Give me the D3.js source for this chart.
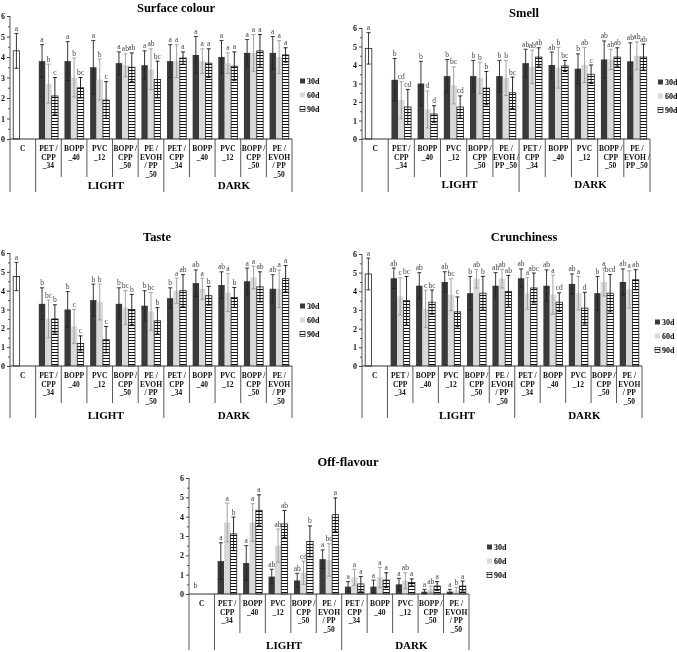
<!DOCTYPE html>
<html>
<head>
<meta charset="utf-8">
<script src="https://cdn.jsdelivr.net/npm/d3@7"></script>
<style>
  body { margin: 0; background: #fff; }
  svg { display: block; font-family: "Liberation Serif", "Times New Roman", serif; will-change: transform; }
</style>
</head>
<body>
<div id="chart"></div>
<script>
// storage times and light condition groups
var series = ['30d', '60d', '90d'];
var groups = ['LIGHT', 'DARK'];
// 11 categories: control, 5 packages under light, 5 packages in the dark
var catLabels = [['C'], ['PET /', 'CPP', '_34'], ['BOPP', '_40'], ['PVC', '_12'], ['BOPP /', 'CPP', '_50'], ['PE /', 'EVOH', '/ PP', '_50'],
                 ['PET /', 'CPP', '_34'], ['BOPP', '_40'], ['PVC', '_12'], ['BOPP /', 'CPP', '_50'], ['PE /', 'EVOH', '/ PP', '_50']];
var smellLabels = [['C'], ['PET /', 'CPP', '_34'], ['BOPP', '_40'], ['PVC', '_12'], ['BOPP /', 'CPP', '_50'], ['PE /', 'EVOH /', 'PP _50'],
                   ['PET /', 'CPP', '_34'], ['BOPP', '_40'], ['PVC', '_12'], ['BOPP /', 'CPP', '_50'], ['PE /', 'EVOH /', 'PP _50']];

// Surface colour
var surfM30 = [4.3, 3.8, 3.8, 3.5, 3.7, 3.6, 3.8, 4.1, 4.0, 4.2, 4.2];
var surfM60 = [null, 2.7, 3.0, 2.9, 3.6, 3.4, 3.8, 3.8, 3.7, 4.2, 4.0];
var surfM90 = [null, 2.1, 2.5, 1.9, 3.5, 2.9, 3.95, 3.7, 3.55, 4.3, 4.1];
var surfS30 = [0.85, 0.8, 0.95, 1.3, 0.55, 0.7, 0.8, 0.9, 0.8, 0.65, 0.8];
var surfS60 = [null, 0.95, 0.95, 1.0, 0.55, 1.0, 0.8, 0.6, 0.5, 0.9, 0.8];
var surfS90 = [null, 0.9, 0.5, 0.9, 0.7, 0.9, 0.3, 0.7, 0.7, 0.8, 0.35];
var surfL30 = ['a', 'a', 'a', 'a', 'a', 'a', 'a', 'a', 'a', 'a', 'a'];
var surfL60 = ['', 'b', 'b', 'b', 'ab', 'ab', 'a', 'a', 'a', 'a', 'a'];
var surfL90 = ['', 'c', 'bc', 'c', 'ab', 'bc', 'a', 'a', 'a', 'a', 'a'];

// Smell
var smellM30 = [4.9, 3.2, 3.0, 3.4, 3.4, 3.4, 4.1, 4.0, 3.8, 4.3, 4.2];
var smellM60 = [null, 2.1, 1.6, 2.9, 3.3, 3.3, 3.9, 3.85, 4.0, 4.3, 4.5];
var smellM90 = [null, 1.73, 1.35, 1.73, 2.75, 2.5, 4.43, 3.95, 3.5, 4.43, 4.43];
var smellS30 = [0.85, 1.15, 1.2, 0.9, 0.85, 0.85, 0.75, 0.7, 0.8, 1.0, 1.0];
var smellS60 = [null, 1.0, 1.0, 1.0, 0.85, 0.95, 0.9, 1.1, 0.95, 0.55, 0.75];
var smellS90 = [null, 0.95, 0.45, 0.6, 0.9, 0.85, 0.5, 0.3, 0.5, 0.5, 0.7];
var smellL30 = ['a', 'b', 'b', 'b', 'b', 'b', 'ab', 'ab', 'b', 'ab', 'ab'];
var smellL60 = ['', 'cd', 'd', 'bc', 'b', 'b', 'ab', 'b', 'ab', 'ab', 'ab'];
var smellL90 = ['', 'cd', 'd', 'cd', 'b', 'bc', 'ab', 'bc', 'c', 'ab', 'ab'];

// Taste
var tasteM30 = [4.75, 3.3, 3.0, 3.5, 3.3, 3.2, 3.6, 4.4, 4.3, 4.5, 4.1];
var tasteM60 = [null, 2.5, 2.1, 3.4, 3.1, 2.9, 4.0, 4.1, 3.9, 4.7, 4.1];
var tasteM90 = [null, 2.5, 1.2, 1.4, 3.0, 2.4, 4.0, 3.73, 3.64, 4.2, 4.64];
var tasteS30 = [0.75, 0.85, 0.95, 0.85, 0.85, 0.8, 0.55, 0.7, 0.7, 0.7, 0.75];
var tasteS60 = [null, 1.0, 0.9, 0.95, 0.9, 1.0, 0.67, 0.57, 1.0, 0.6, 1.0];
var tasteS90 = [null, 0.75, 0.4, 0.7, 0.8, 0.7, 0.85, 0.5, 0.53, 0.8, 0.7];
var tasteL30 = ['a', 'b', 'b', 'b', 'b', 'b', 'b', 'ab', 'ab', 'a', 'ab'];
var tasteL60 = ['', 'bc', 'c', 'b', 'bc', 'bc', 'a', 'a', 'a', 'a', 'a'];
var tasteL90 = ['', 'b', 'c', 'c', 'b', 'b', 'ab', 'b', 'b', 'ab', 'a'];

// Crunchiness
var crunM30 = [4.93, 4.7, 4.3, 4.5, 3.9, 4.3, 4.7, 4.3, 4.4, 3.9, 4.5];
var crunM60 = [null, 3.73, 3.06, 3.82, 4.68, 4.68, 3.9, 3.82, 3.9, 4.5, 4.1];
var crunM90 = [null, 3.5, 3.42, 2.9, 3.9, 4.0, 4.18, 3.42, 3.1, 3.9, 4.62];
var crunS30 = [0.85, 0.55, 0.7, 0.55, 0.9, 0.7, 0.5, 0.85, 0.53, 0.9, 0.7];
var crunS60 = [null, 1.0, 1.0, 0.85, 0.5, 0.5, 0.85, 1.05, 0.9, 0.75, 1.0];
var crunS90 = [null, 1.3, 0.65, 0.8, 0.9, 0.85, 0.8, 0.5, 0.85, 1.0, 0.54];
var crunL30 = ['a', 'ab', 'ab', 'ab', 'b', 'ab', 'ab', 'ab', 'ab', 'b', 'ab'];
var crunL60 = ['', 'c', 'c', 'bc', 'ab', 'ab', 'a', 'a', 'a', 'a', 'a'];
var crunL90 = ['', 'bc', 'bc', 'c', 'b', 'ab', 'abc', 'cd', 'd', 'bcd', 'ab'];

// Off-flavour
var offM30 = [0, 1.7, 1.6, 0.9, 0.7, 1.8, 0.38, 0.38, 0.5, 0.12, 0.12];
var offM60 = [null, 3.7, 3.7, 2.5, 1.1, 1.76, 0.86, 0.86, 0.69, 0.24, 0.17];
var offM90 = [null, 3.11, 4.33, 3.62, 2.72, 4.1, 0.52, 0.72, 0.6, 0.41, 0.41];
var offS30 = [0, 0.95, 0.9, 0.38, 0.37, 0.48, 0.26, 0.34, 0.31, 0.12, 0.12];
var offS60 = [null, 1.0, 0.97, 0.86, 0.6, 0.84, 0.42, 0.52, 0.41, 0.17, 0.17];
var offS90 = [null, 0.87, 0.8, 0.7, 0.8, 0.87, 0.38, 0.38, 0.18, 0.23, 0.26];
var offL30 = ['b', 'a', 'a', 'ab', 'ab', 'a', 'a', 'a', 'a', 'a', 'a'];
var offL60 = ['', 'a', 'a', 'ab', 'cd', 'bc', 'a', 'a', 'ab', 'ab', 'b'];
var offL90 = ['', 'b', 'a', 'ab', 'b', 'a', 'a', 'a', 'a', 'a', 'a'];

var yTicks = [0, 1, 2, 3, 4, 5, 6];

// panel layout (pixel geometry of each small chart)
var panels = [
  {title: 'Surface colour', m: [surfM30, surfM60, surfM90], s: [surfS30, surfS60, surfS90], l: [surfL30, surfL60, surfL90],
   labels: catLabels, left: 10, right: 292, y0: 139, y6: 16, tx: 176, ty: 12, lx: 300, ly: 81, short: 38, long: 53, gy: 50},
  {title: 'Smell', m: [smellM30, smellM60, smellM90], s: [smellS30, smellS60, smellS90], l: [smellL30, smellL60, smellL90],
   labels: smellLabels, left: 362, right: 650, y0: 139, y6: 28, tx: 524, ty: 17, lx: 658, ly: 82, short: 38, long: 53, gy: 49},
  {title: 'Taste', m: [tasteM30, tasteM60, tasteM90], s: [tasteS30, tasteS60, tasteS90], l: [tasteL30, tasteL60, tasteL90],
   labels: catLabels, left: 10, right: 292, y0: 366, y6: 253, tx: 157, ty: 241, lx: 300, ly: 306, short: 37, long: 52, gy: 53},
  {title: 'Crunchiness', m: [crunM30, crunM60, crunM90], s: [crunS30, crunS60, crunS90], l: [crunL30, crunL60, crunL90],
   labels: catLabels, left: 362, right: 642, y0: 366, y6: 254, tx: 524, ty: 241, lx: 655, ly: 322, short: 37, long: 52, gy: 53},
  {title: 'Off-flavour', m: [offM30, offM60, offM90], s: [offS30, offS60, offS90], l: [offL30, offL60, offL90],
   labels: catLabels, left: 189, right: 469, y0: 594, y6: 478, tx: 348, ty: 466, lx: 487, ly: 547, short: 39, long: 56, gy: 55}
];

var barFill = ['#3a3a3a', '#d9d9d9', 'url(#hstripe)'];
var errColor = ['#222', '#9a9a9a', '#111'];

var svg = d3.select('#chart').append('svg')
  .attr('width', 677)
  .attr('height', 652);

// horizontal stripes for the 90d bars
var pat = svg.append('defs').append('pattern')
  .attr('id', 'hstripe')
  .attr('patternUnits', 'userSpaceOnUse')
  .attr('width', 4)
  .attr('height', 3);
pat.append('rect').attr('width', 4).attr('height', 3).attr('fill', '#fff');
pat.append('rect').attr('y', 1).attr('width', 4).attr('height', 1).attr('fill', '#111');

panels.forEach(drawPanel);

function drawPanel(p) {
  var g = svg.append('g');
  var idx = d3.range(p.labels.length);

  var x = d3.scaleBand().domain(idx).range([p.left, p.right]);
  var xs = d3.scaleBand().domain(series).range([0, x.bandwidth()]).paddingOuter(0.5);
  var y = d3.scaleLinear().domain([0, 6]).range([p.y0, p.y6]);

  // title
  g.append('text')
    .attr('x', p.tx).attr('y', p.ty)
    .attr('text-anchor', 'middle')
    .attr('font-size', 12.5).attr('font-weight', 'bold')
    .text(p.title);

  // y axis with minor ticks
  var minor = g.append('g').attr('transform', 'translate(' + p.left + ',0)')
    .call(d3.axisLeft(y).tickValues(d3.range(0.5, 6, 1)).tickSize(2).tickFormat(''));
  minor.select('.domain').remove();
  minor.selectAll('line').attr('stroke', '#555');

  var ax = g.append('g').attr('transform', 'translate(' + p.left + ',0)')
    .call(d3.axisLeft(y).tickValues(yTicks).tickSize(3).tickPadding(2).tickFormat(d3.format('d')));
  ax.select('.domain').remove();
  ax.selectAll('line').attr('stroke', '#444');
  ax.selectAll('text').attr('font-size', 8).attr('font-weight', 'bold')
    .attr('font-family', '"Liberation Serif", serif').attr('fill', '#111');

  // bars
  series.forEach(function(sr, k) {
    idx.forEach(function(i) {
      var v = p.m[k][i];
      if (v === null) return;
      var bx = x(i) + xs(sr);
      var bw = xs.bandwidth();
      var isC = i === 0;
      if (v > 0) {
        g.append('rect')
          .attr('x', bx).attr('y', y(v))
          .attr('width', bw).attr('height', y(0) - y(v))
          .attr('fill', isC ? '#fff' : barFill[k])
          .attr('stroke', (isC || k === 2) ? '#222' : 'none')
          .attr('stroke-width', 0.8);
      }
      var sd = p.s[k][i];
      var cx = bx + bw / 2;
      if (sd > 0) {
        var col = isC ? '#222' : errColor[k];
        g.append('line')
          .attr('x1', cx).attr('x2', cx)
          .attr('y1', y(v + sd)).attr('y2', y(Math.max(0, v - sd)))
          .attr('stroke', col).attr('stroke-width', 0.9);
        g.append('line')
          .attr('x1', cx - 2).attr('x2', cx + 2)
          .attr('y1', y(v + sd)).attr('y2', y(v + sd))
          .attr('stroke', col).attr('stroke-width', 0.9);
        g.append('line')
          .attr('x1', cx - 2).attr('x2', cx + 2)
          .attr('y1', y(Math.max(0, v - sd))).attr('y2', y(Math.max(0, v - sd)))
          .attr('stroke', col).attr('stroke-width', 0.9);
      }
      var lt = p.l[k][i];
      if (lt) {
        g.append('text')
          .attr('x', cx).attr('y', y(v + sd) - (sd > 0 ? 2.5 : 6))
          .attr('text-anchor', 'middle')
          .attr('font-size', 7.5)
          .attr('fill', '#444')
          .text(lt);
      }
    });
  });

  // x baseline
  g.append('line')
    .attr('x1', p.left).attr('x2', p.right)
    .attr('y1', p.y0).attr('y2', p.y0)
    .attr('stroke', '#333');
  // y axis line, carried down through the label area
  var edges = idx.map(function(i) { return x(i); }).concat([p.right]);
  edges.forEach(function(ex, j) {
    var isLong = (j === 0 || j === 1 || j === 6 || j === edges.length - 1);
    g.append('line')
      .attr('x1', ex).attr('x2', ex)
      .attr('y1', j === 0 ? p.y6 : p.y0)
      .attr('y2', p.y0 + (isLong ? p.long : p.short))
      .attr('stroke', '#444').attr('stroke-width', 0.9);
  });

  // category labels
  idx.forEach(function(i) {
    var t = g.append('text')
      .attr('text-anchor', 'middle')
      .attr('font-size', 7.5).attr('font-weight', 'bold')
      .attr('fill', '#111');
    p.labels[i].forEach(function(line, n) {
      t.append('tspan')
        .attr('x', x(i) + x.bandwidth() / 2)
        .attr('y', p.y0 + 12 + n * 8.7)
        .text(line);
    });
  });

  // group labels
  var spans = [[x(1), x(6)], [x(6), p.right]];
  groups.forEach(function(gr, n) {
    g.append('text')
      .attr('x', (spans[n][0] + spans[n][1]) / 2 + 6)
      .attr('y', p.y0 + p.gy)
      .attr('text-anchor', 'middle')
      .attr('font-size', 11).attr('font-weight', 'bold')
      .text(gr);
  });

  // legend
  series.forEach(function(sr, k) {
    var ly = p.ly + k * 14;
    g.append('rect')
      .attr('x', p.lx).attr('y', ly - 2.5)
      .attr('width', 5).attr('height', 5)
      .attr('fill', barFill[k])
      .attr('stroke', k === 2 ? '#222' : 'none')
      .attr('stroke-width', 0.7);
    g.append('text')
      .attr('x', p.lx + 7).attr('y', ly + 3)
      .attr('font-size', 8).attr('font-weight', 'bold')
      .text(sr);
  });
}
</script>
</body>
</html>
